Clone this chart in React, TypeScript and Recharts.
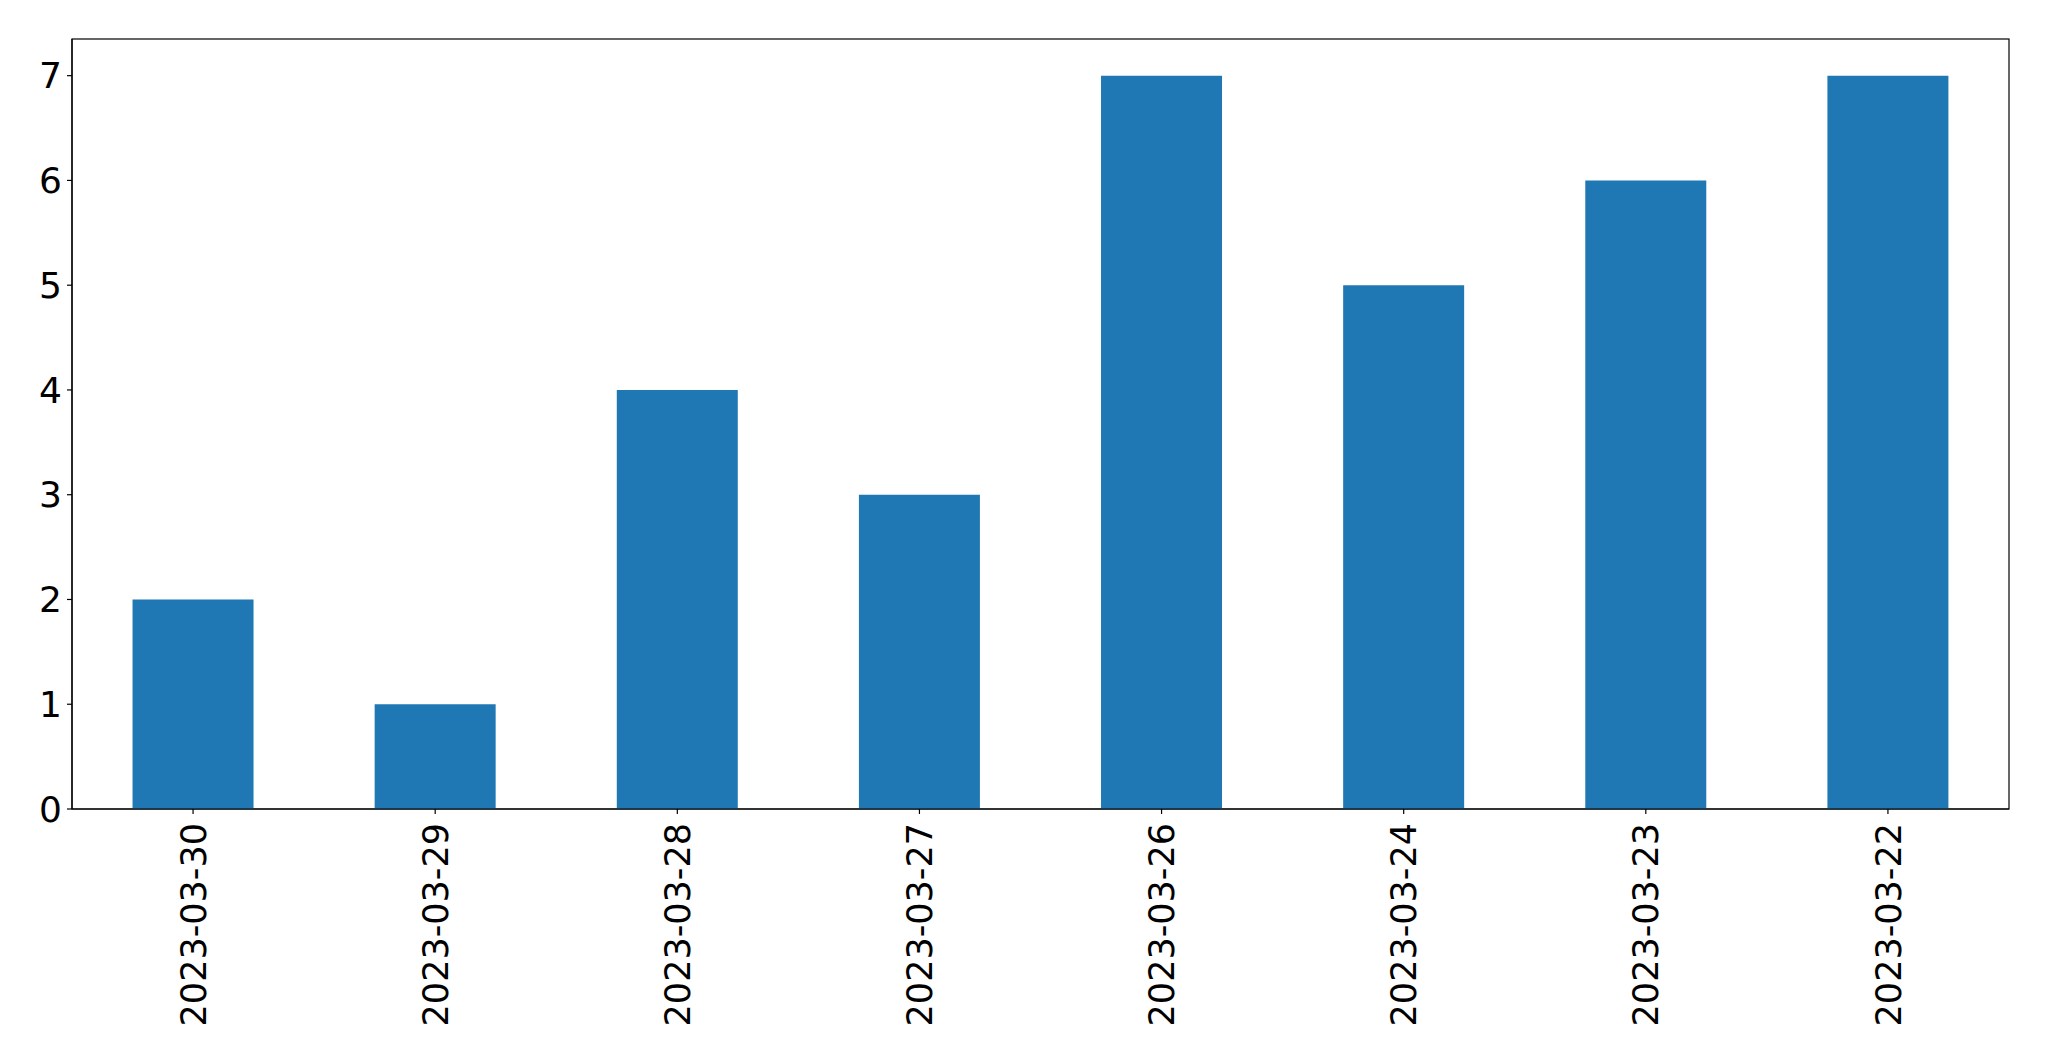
import React from 'react';
import * as Recharts from 'recharts';
import { BarChart, Bar, XAxis, YAxis } from 'recharts';

const dates = ['2023-03-30', '2023-03-29', '2023-03-28', '2023-03-27', '2023-03-26', '2023-03-24', '2023-03-23', '2023-03-22'];
const counts = [2, 1, 4, 3, 7, 5, 6, 7];
const yTicks = [0, 1, 2, 3, 4, 5, 6, 7];

const data = dates.map((date, i) => ({ date, count: counts[i] }));

const FONT = 'DejaVu Sans, sans-serif';

const DateTick = (props: any) => {
  const { x, y, payload } = props;
  return (
    <g transform={`translate(${x},${y + 4})`}>
      <text
        transform="rotate(-90)"
        textAnchor="end"
        dy="0.36em"
        fontSize={35}
        fontFamily={FONT}
        fill="#000"
      >
        {payload.value}
      </text>
    </g>
  );
};

// box around the plot area, like matplotlib's spines
const Frame = () => {
  const usePlotArea = (Recharts as any).usePlotArea;
  const area = usePlotArea ? usePlotArea() : null;
  if (!area) return null;
  return (
    <rect
      x={area.x}
      y={area.y}
      width={area.width}
      height={area.height}
      fill="none"
      stroke="#000"
      strokeWidth={1.2}
    />
  );
};

const App: React.FC = () => {
  return (
    <div style={{ position: 'absolute', left: 0, top: 0, width: 2049, height: 1061, background: '#fff' }}>
      <BarChart
        width={2049}
        height={1061}
        data={data}
        margin={{ top: 39, right: 40, bottom: 12, left: 12 }}
        barCategoryGap="25%"
      >
        <XAxis
          dataKey="date"
          height={240}
          interval={0}
          tickSize={5}
          tickMargin={5}
          tick={<DateTick />}
          axisLine={{ stroke: '#000', strokeWidth: 1.2 }}
          tickLine={{ stroke: '#000', strokeWidth: 1.2 }}
        />
        <YAxis
          width={60}
          domain={[0, 7.35]}
          ticks={yTicks}
          interval={0}
          tickSize={5}
          tickMargin={5}
          tick={{ fontSize: 36, fontFamily: FONT, fill: '#000' }}
          axisLine={{ stroke: '#000', strokeWidth: 1.2 }}
          tickLine={{ stroke: '#000', strokeWidth: 1.2 }}
        />
        <Bar dataKey="count" fill="#1f77b4" isAnimationActive={false} />
        <Frame />
      </BarChart>
    </div>
  );
};

export default App;
